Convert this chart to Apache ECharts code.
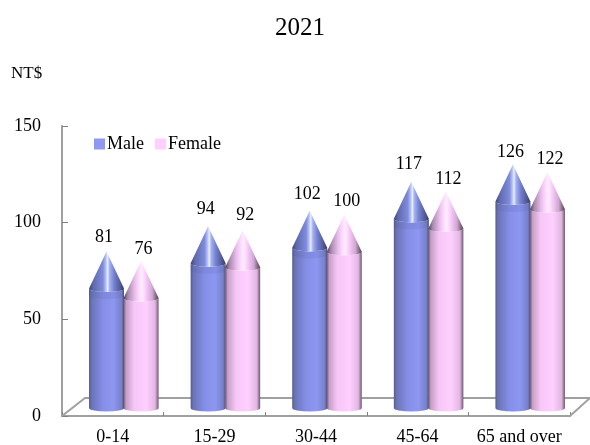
<!DOCTYPE html>
<html><head><meta charset="utf-8">
<script src="https://cdn.jsdelivr.net/npm/echarts@6/dist/echarts.min.js"></script>
<style>html,body{margin:0;padding:0;background:#fff}#c{width:590px;height:445px}</style>
</head><body><div id="c"></div>
<script>
const categories = ['0-14', '15-29', '30-44', '45-64', '65 and over'];
const male = [81, 94, 102, 117, 126];
const female = [76, 92, 100, 112, 122];
const yTicks = [0, 50, 100, 150];

const FONT = '"Liberation Serif","Times New Roman",serif';
const R = 17.5, RY = 3.6, CONE = 37, DX = 11, DY = -8;
const labelLift = {Male:[14,17,17,18,12], Female:[12,15,13,12,13]};

function lin(stops){
  return {type:'linear',x:0,y:0,x2:1,y2:0,colorStops:stops.map(s=>({offset:s[0],color:s[1]}))};
}
const palettes = {
  Male: {
    body: lin([[0,'#555c90'],[0.08,'#6b74b8'],[0.4,'#858fe6'],[0.7,'#8d97f2'],[0.93,'#7780c8'],[1,'#4a5080']]),
    cone: lin([[0,'#3f4672'],[0.12,'#5f69ae'],[0.4,'#7f8cdc'],[0.48,'#b4c0f6'],[0.53,'#e8eeff'],[0.59,'#a4b0f0'],[0.72,'#7480d0'],[0.9,'#4f5894'],[1,'#363c60']]),
    band: 'rgba(60,66,130,0.10)'
  },
  Female: {
    body: lin([[0,'#6e566e'],[0.07,'#c69ec6'],[0.3,'#f6c6f6'],[0.65,'#ffd0ff'],[0.9,'#e2b6e2'],[1,'#705870']]),
    cone: lin([[0,'#4e4050'],[0.12,'#a888ac'],[0.32,'#eabeec'],[0.45,'#ffdcff'],[0.52,'#ffeeff'],[0.62,'#fcd0fc'],[0.82,'#d0a6d2'],[1,'#4e4050']]),
    band: 'rgba(255,255,255,0.0)'
  }
};

function bullet(name, sideSign){
  return function(params, api){
    const cat = api.value(0), val = api.value(1);
    const band = api.size([1,0])[0];
    const p = api.coord([cat, val]), z = api.coord([cat, 0]);
    const cx = p[0] + DX + sideSign * band * 0.17;
    const apex = p[1] + DY, bottom = z[1] + DY, sh = apex + CONE;
    const pal = palettes[name];
    const l = cx - R, r = cx + R;
    const bodyPath = `M${l} ${sh}L${l} ${bottom}A${R} ${RY} 0 0 0 ${r} ${bottom}L${r} ${sh}A${R} ${RY} 0 0 1 ${l} ${sh}Z`;
    const bandPath = `M${l} ${sh}L${l} ${sh+7}A${R} ${RY} 0 0 0 ${r} ${sh+7}L${r} ${sh}A${R} ${RY} 0 0 1 ${l} ${sh}Z`;
    const conePath = `M${cx} ${apex}L${r} ${sh}A${R} ${RY} 0 0 1 ${l} ${sh}Z`;
    return {
      type:'group',
      children:[
        {type:'path',shape:{pathData:bodyPath},style:{fill:pal.body}},
        {type:'path',shape:{pathData:bandPath},style:{fill:pal.band}},
        {type:'path',shape:{pathData:conePath},style:{fill:pal.cone}},
        {type:'text',style:{text:String(val),x:cx+sideSign*2.5,y:apex-labelLift[name][cat],align:'center',verticalAlign:'middle',
          font:'18px '+FONT,fill:'#000'}}
      ]
    };
  };
}
function seriesFor(name, vals, sign, color){
  return {
    name, type:'custom', renderItem: bullet(name, sign), clip:false,
    encode:{x:0,y:1}, itemStyle:{color},
    data: vals.map((v,i)=>[i,v])
  };
}

const chart = echarts.init(document.getElementById('c'));
const axisLine = {show:true,lineStyle:{color:'#a0a0a0',width:2}};
chart.setOption({
  animation:false,
  backgroundColor:'#fff',
  title:[
    {text:'2021',left:295,top:11,textAlign:'center',textStyle:{fontFamily:FONT,fontSize:25,fontWeight:'normal',color:'#000'}},
    {text:'NT$',left:6,top:60,textStyle:{fontFamily:FONT,fontSize:17,fontWeight:'normal',color:'#000'}}
  ],
  legend:{
    left:89,top:130,icon:'rect',itemWidth:11,itemHeight:11,itemGap:11,
    textStyle:{fontFamily:FONT,fontSize:18,color:'#000',padding:[0,0,0,-3]},
    data:['Male','Female']
  },
  grid:{left:62,top:126,width:508,height:290,outerBoundsMode:'none'},
  xAxis:{
    type:'category',data:categories,
    axisLine,axisTick:{show:true,inside:true,length:4,lineStyle:{color:'#808080',width:1}},
    axisLabel:{fontFamily:FONT,fontSize:18,color:'#000',margin:12,interval:0},
    splitLine:{show:false}
  },
  yAxis:{
    type:'value',min:0,max:150,interval:50,
    axisLine,axisTick:{show:true,inside:true,length:6,lineStyle:{color:'#808080',width:1}},
    axisLabel:{fontFamily:FONT,fontSize:18,color:'#000',margin:21,
      customValues:yTicks},
    splitLine:{show:false}
  },
  graphic:[{
    type:'polyline',z:1,silent:true,
    shape:{points:[[62,416],[85,398],[590,398],[570,416]]},
    style:{stroke:'#a0a0a0',lineWidth:2,fill:null}
  }],
  series:[
    seriesFor('Male',male,-1,'#8e97f2'),
    seriesFor('Female',female,1,'#ffd0fc')
  ]
});
</script></body></html>
